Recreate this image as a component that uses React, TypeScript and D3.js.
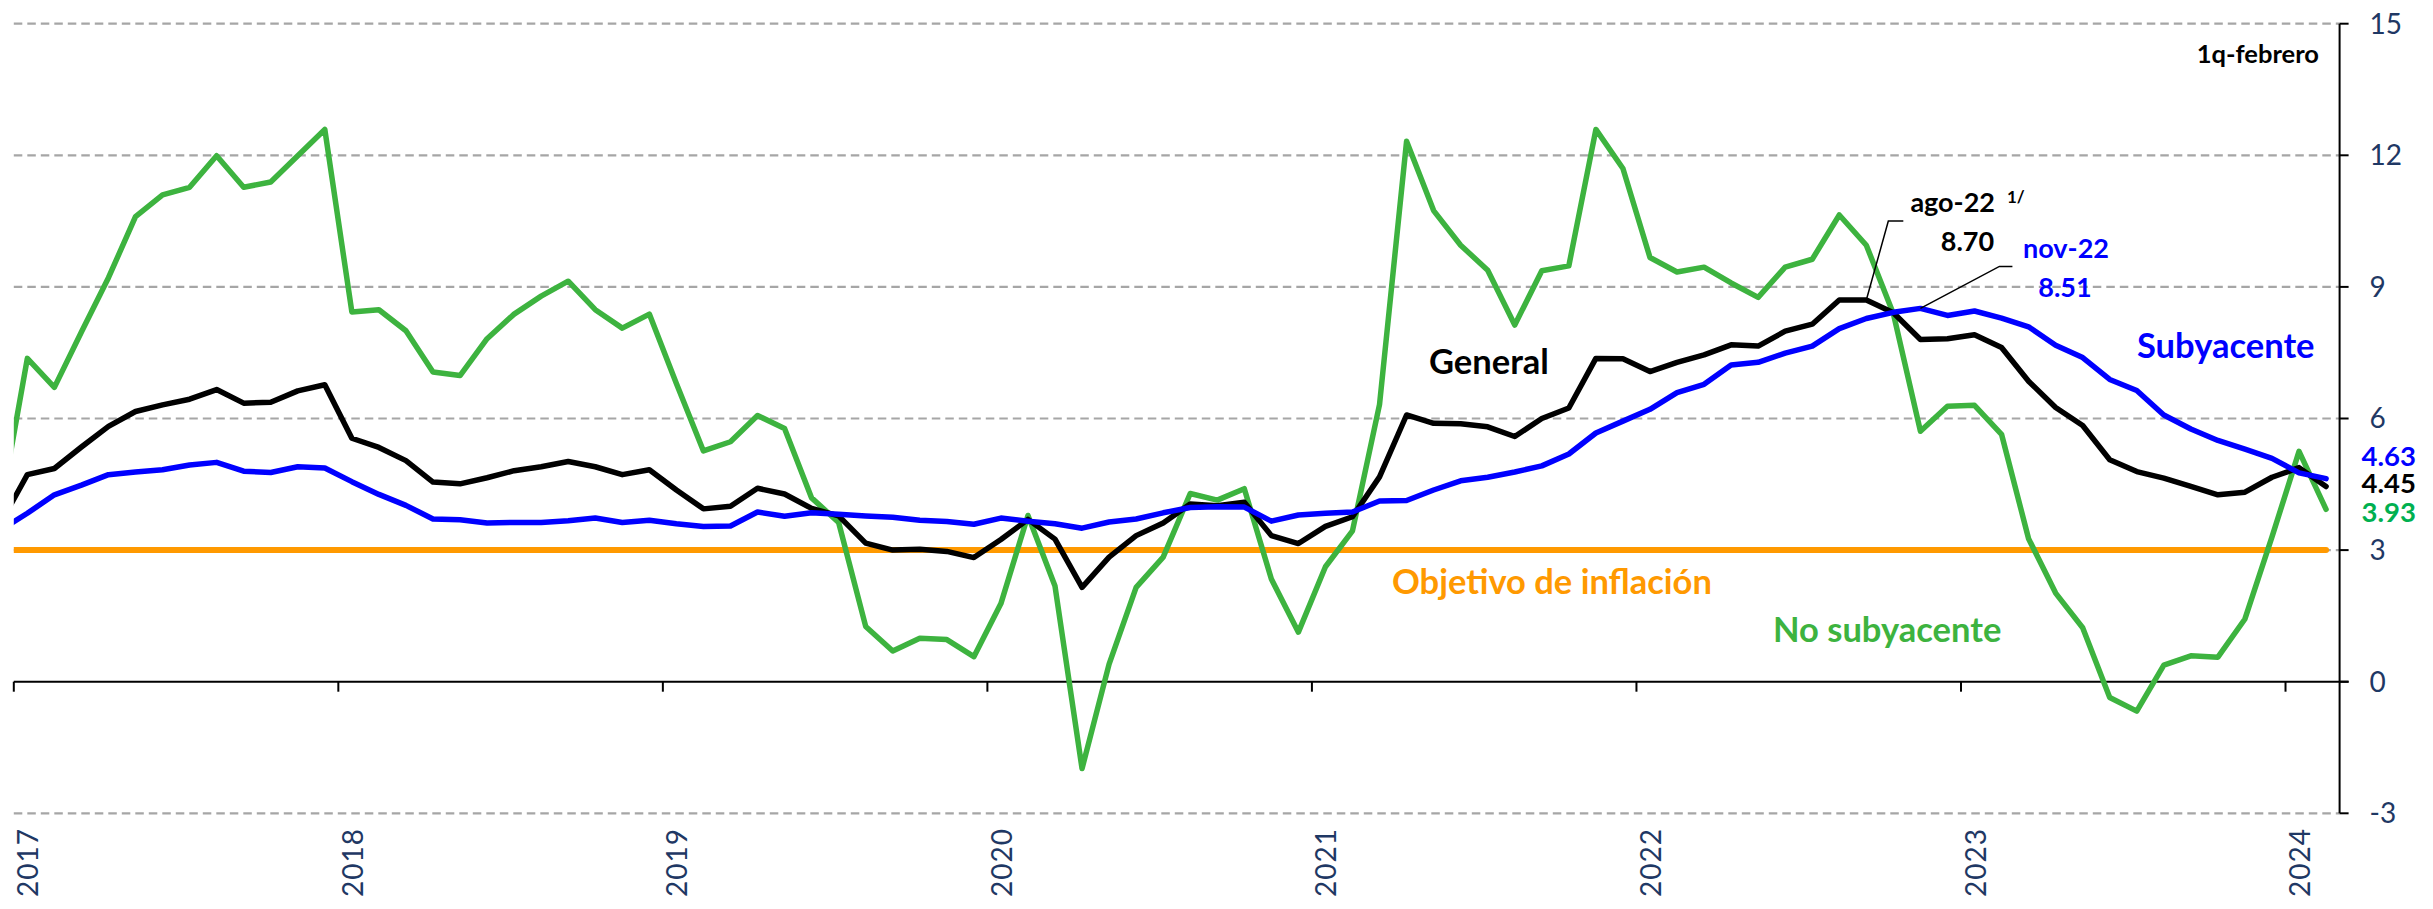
import React from "react";
import * as d3 from "d3";

// Monthly annual inflation (%), Dec-2016 ... Feb-2024 (1q)
const general = [
  3.6,
  4.72, 4.86, 5.35, 5.82, 6.16, 6.31, 6.44, 6.66, 6.35, 6.37, 6.63, 6.77,
  5.55, 5.34, 5.04, 4.55, 4.51, 4.65, 4.81, 4.9, 5.02, 4.9, 4.72, 4.83,
  4.37, 3.94, 4.0, 4.41, 4.28, 3.95, 3.78, 3.16, 3.0, 3.02, 2.97, 2.83,
  3.24, 3.7, 3.25, 2.15, 2.84, 3.33, 3.62, 4.05, 4.01, 4.09, 3.33, 3.15,
  3.54, 3.76, 4.67, 6.08, 5.89, 5.88, 5.81, 5.59, 6.0, 6.24, 7.37, 7.36,
  7.07, 7.28, 7.45, 7.68, 7.65, 7.99, 8.15, 8.7, 8.7, 8.41, 7.8, 7.82,
  7.91, 7.62, 6.85, 6.25, 5.84, 5.06, 4.79, 4.64, 4.45, 4.26, 4.32, 4.66,
  4.88, 4.45,
];
const subyacente = [
  3.45,
  3.84, 4.26, 4.48, 4.72, 4.78, 4.83, 4.94, 5.0, 4.8, 4.77, 4.9, 4.87,
  4.56, 4.27, 4.02, 3.71, 3.69, 3.62, 3.63, 3.63, 3.67, 3.73, 3.63, 3.68,
  3.6, 3.54, 3.55, 3.87, 3.77, 3.85, 3.82, 3.78, 3.75, 3.68, 3.65, 3.59,
  3.73, 3.66, 3.6, 3.5, 3.64, 3.71, 3.85, 3.97, 3.99, 3.98, 3.66, 3.8,
  3.84, 3.87, 4.12, 4.13, 4.37, 4.58, 4.66, 4.78, 4.92, 5.19, 5.67, 5.94,
  6.21, 6.59, 6.78, 7.22, 7.28, 7.49, 7.65, 8.05, 8.28, 8.42, 8.51, 8.35,
  8.45, 8.29, 8.09, 7.67, 7.39, 6.89, 6.64, 6.08, 5.76, 5.5, 5.3, 5.09,
  4.76, 4.63,
];
const noSubyacente = [
  3.9,
  7.37, 6.71, 7.97, 9.21, 10.6, 11.1, 11.27, 11.99, 11.27, 11.39, 11.99, 12.59,
  8.43, 8.48, 8.0, 7.06, 6.98, 7.82, 8.38, 8.79, 9.13, 8.48, 8.06, 8.38,
  6.8, 5.26, 5.47, 6.07, 5.77, 4.19, 3.63, 1.26, 0.7, 0.99, 0.96, 0.57,
  1.78, 3.79, 2.18, -1.98, 0.4, 2.15, 2.84, 4.29, 4.14, 4.4, 2.34, 1.13,
  2.62, 3.44, 6.32, 12.32, 10.74, 9.95, 9.38, 8.13, 9.37, 9.48, 12.59, 11.7,
  9.67, 9.34, 9.45, 9.09, 8.76, 9.45, 9.63, 10.64, 9.95, 8.39, 5.71, 6.28,
  6.3, 5.64, 3.26, 2.02, 1.23, -0.36, -0.67, 0.38, 0.59, 0.56, 1.43, 3.3,
  5.25, 3.93,
];
const objetivo = 3;
const years = ["2017", "2018", "2019", "2020", "2021", "2022", "2023", "2024"];
const yTicks = [15, 12, 9, 6, 3, 0, -3];
const gridValues = [15, 12, 9, 6, 3, -3];

const W = 2433;
const H = 909;
const FONT = "Lato, 'Liberation Sans', sans-serif";
const TICK_COLOR = "#1F3864";
const GREEN = "#3DB33F";

export default function App() {
  const nMonths = general.length - 1; // months from Jan-2017
  const x = d3.scaleLinear().domain([0, nMonths]).range([13.8, 2339.6]);
  const y = d3.scaleLinear().domain([-3, 15]).range([813.3, 23.7]);
  const px = (k: number) => x(k - 0.5); // k = 0 -> Dec 2016

  const line = d3
    .line<number>()
    .x((_, k) => px(k))
    .y((v) => y(v));

  const target = general.map(() => objetivo);
  const x0 = x(0);
  const xR = x(nMonths);

  const ago = { x: px(68 + 1), y: y(general[69]) };
  const nov = { x: px(70 + 1), y: y(subyacente[71]) };

  return (
    <svg
      width={W}
      height={H}
      style={{ position: "absolute", left: 0, top: 0, background: "#fff" }}
      fontFamily={FONT}
    >
      <defs>
        <clipPath id="plot">
          <rect x={x0} y={0} width={W - x0} height={H} />
        </clipPath>
      </defs>

      {/* gridlines */}
      {gridValues.map((v) => (
        <line
          key={"g" + v}
          x1={x0}
          x2={xR}
          y1={y(v)}
          y2={y(v)}
          stroke="#A6A6A6"
          strokeWidth={2.2}
          strokeDasharray="8.5,5"
        />
      ))}

      {/* x axis at zero */}
      <line x1={x0} x2={xR + 9} y1={y(0)} y2={y(0)} stroke="#000" strokeWidth={2} />
      {years.map((yr, j) => (
        <line
          key={"xt" + yr}
          x1={x(j * 12)}
          x2={x(j * 12)}
          y1={y(0)}
          y2={y(0) + 10}
          stroke="#000"
          strokeWidth={2}
        />
      ))}
      {years.map((yr, j) => (
        <text
          key={"xl" + yr}
          transform={`translate(${x(j * 12 + 0.5) + 11},897) rotate(-90)`}
          fontSize={28}
          fill={TICK_COLOR}
          letterSpacing={1}
        >
          {yr}
        </text>
      ))}

      {/* right axis */}
      <line x1={xR} x2={xR} y1={y(15)} y2={y(-3)} stroke="#000" strokeWidth={2} />
      {yTicks.map((v) => (
        <g key={"yt" + v}>
          <line x1={xR} x2={xR + 9} y1={y(v)} y2={y(v)} stroke="#000" strokeWidth={2} />
          <text
            x={xR + 30}
            y={y(v)}
            dy="0.35em"
            fontSize={28}
            fill={TICK_COLOR}
          >
            {v}
          </text>
        </g>
      ))}

      {/* series */}
      <g clipPath="url(#plot)" fill="none" strokeLinejoin="round" strokeLinecap="round">
        <path d={line(target) || ""} stroke="#FF9900" strokeWidth={6} />
        <path d={line(noSubyacente) || ""} stroke={GREEN} strokeWidth={5.5} />
        <path d={line(general) || ""} stroke="#000" strokeWidth={5.5} />
        <path d={line(subyacente) || ""} stroke="#0000FF" strokeWidth={5.5} />
      </g>

      {/* annotation leaders */}
      <polyline
        points={`${ago.x},${ago.y} ${ago.x + 22},${ago.y - 79} ${ago.x + 37},${ago.y - 79}`}
        fill="none"
        stroke="#000"
        strokeWidth={1.5}
      />
      <polyline
        points={`${nov.x},${nov.y} ${nov.x + 79},${nov.y - 42} ${nov.x + 92},${nov.y - 42}`}
        fill="none"
        stroke="#000"
        strokeWidth={1.5}
      />

      {/* labels */}
      <g fontWeight="bold">
        <text x={2319} y={62.5} fontSize={25.5} textAnchor="end" fill="#000">
          1q-febrero
        </text>
        <text x={1429} y={374} fontSize={34.5} fill="#000">
          General
        </text>
        <text x={2137} y={358} fontSize={34.5} fill="#0000FF">
          Subyacente
        </text>
        <text x={1773} y={642} fontSize={34.5} fill={GREEN}>
          No subyacente
        </text>
        <text x={1392} y={594} fontSize={34.5} fill="#FF9900">
          Objetivo de inflación
        </text>

        <text x={1995} y={212} fontSize={27} textAnchor="end" fill="#000">
          ago-22
        </text>
        <text x={2007} y={203} fontSize={17} fill="#000">
          1/
        </text>
        <text x={1967.5} y={250.7} fontSize={27} textAnchor="middle" fill="#000">
          {general[69].toFixed(2)}
        </text>
        <text x={2066} y={258} fontSize={27} textAnchor="middle" fill="#0000FF">
          nov-22
        </text>
        <text x={2065} y={296.7} fontSize={27} textAnchor="middle" fill="#0000FF">
          {subyacente[71].toFixed(2)}
        </text>

        <text x={xR + 22} y={466} fontSize={27.5} fill="#0000FF">
          {subyacente[subyacente.length - 1].toFixed(2)}
        </text>
        <text x={xR + 22} y={493.3} fontSize={27.5} fill="#000">
          {general[general.length - 1].toFixed(2)}
        </text>
        <text x={xR + 22} y={521.7} fontSize={27.5} fill="#00B050">
          {noSubyacente[noSubyacente.length - 1].toFixed(2)}
        </text>
      </g>
    </svg>
  );
}
